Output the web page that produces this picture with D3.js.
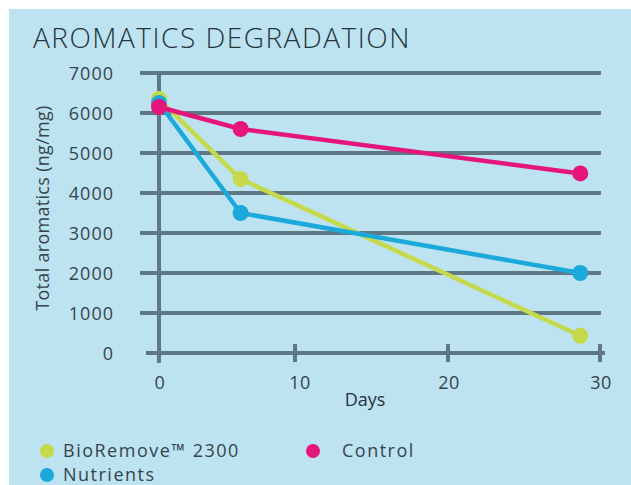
<!DOCTYPE html>
<html>
<head>
<meta charset="utf-8">
<script src="https://cdn.jsdelivr.net/npm/d3@7"></script>
<style>
  body { margin: 0; background: #fff; }
  svg { display: block; font-family: "Open Sans", sans-serif; }
</style>
</head>
<body>
<svg id="chart" width="631" height="485"></svg>
<script>
// values
const days = [0, 6, 28.7];
const bioRemove = [6350, 4350, 430];
const nutrients = [6250, 3500, 2000];
const control = [6150, 5600, 4490];
const seriesNames = ["BioRemove\u2122 2300", "Nutrients", "Control"];
const seriesColors = ["#c6d94a", "#1aa9da", "#e5157c"];
const yTicks = [0, 1000, 2000, 3000, 4000, 5000, 6000, 7000];
const xTicks = [0, 10, 20, 30];

const svg = d3.select("#chart");
const gridColor = "#5f7884";
const textColor = "#34444c";

// blue panel
svg.append("rect")
    .attr("x", 9).attr("y", 9)
    .attr("width", 622).attr("height", 476)
    .attr("fill", "#bde3f1");

svg.append("text")
    .attr("x", 33).attr("y", 48)
    .attr("font-size", 28)
    .attr("font-weight", 300)
    .attr("letter-spacing", 1.5)
    .attr("fill", "#26343b")
    .text("AROMATICS DEGRADATION");

// the printed x axis is not evenly spaced between 0 and 10
let x = d3.scaleLinear().domain([0, 10, 20, 30]).range([159, 295, 448, 600]);
let y = d3.scaleLinear().domain([0, 7000]).range([353, 73]);

// horizontal grid lines
svg.append("g").selectAll("line")
    .data(yTicks)
    .enter().append("line")
    .attr("x1", d => d === 0 ? 146 : 140)
    .attr("x2", d => d === 0 ? 605 : 601)
    .attr("y1", d => y(d)).attr("y2", d => y(d))
    .attr("stroke", gridColor)
    .attr("stroke-width", 4);

// vertical axis line at day 0
svg.append("line")
    .attr("x1", x(0)).attr("x2", x(0))
    .attr("y1", y(7000)).attr("y2", y(0) + 10)
    .attr("stroke", gridColor)
    .attr("stroke-width", 4);

// x ticks
svg.append("g").selectAll("line")
    .data(xTicks.filter(d => d > 0))
    .enter().append("line")
    .attr("x1", d => x(d)).attr("x2", d => x(d))
    .attr("y1", y(0) - 9).attr("y2", y(0) + 9)
    .attr("stroke", gridColor)
    .attr("stroke-width", 4);

// y tick labels
svg.append("g").selectAll("text")
    .data(yTicks)
    .enter().append("text")
    .attr("x", 114)
    .attr("y", d => y(d) + 7)
    .attr("text-anchor", "end")
    .attr("font-size", 18)
    .attr("letter-spacing", 1)
    .attr("fill", textColor)
    .text(d => d);

// x tick labels
svg.append("g").selectAll("text")
    .data(xTicks)
    .enter().append("text")
    .attr("x", d => x(d) + (d === 10 ? 5 : 1))
    .attr("y", 389)
    .attr("text-anchor", "middle")
    .attr("font-size", 18)
    .attr("letter-spacing", 0.5)
    .attr("fill", textColor)
    .text(d => d);

svg.append("text")
    .attr("x", 365).attr("y", 406)
    .attr("text-anchor", "middle")
    .attr("font-size", 18)
    .attr("font-weight", 500)
    .attr("fill", "#26343b")
    .text("Days");

svg.append("text")
    .attr("transform", "translate(49,208) rotate(-90)")
    .attr("text-anchor", "middle")
    .attr("font-size", 18)
    .attr("letter-spacing", 0.3)
    .attr("fill", textColor)
    .text("Total aromatics (ng/mg)");

// lines and dots
let seriesData = [bioRemove, nutrients, control].map((vals, i) => ({
    name: seriesNames[i],
    color: seriesColors[i],
    values: vals.map((v, j) => ({day: days[j], val: v}))
}));

let linefcn = d3.line()
    .x(d => x(d.day))
    .y(d => y(d.val));

svg.append("g").selectAll("path")
    .data(seriesData)
    .enter().append("path")
    .attr("d", d => linefcn(d.values))
    .attr("fill", "none")
    .attr("stroke", d => d.color)
    .attr("stroke-width", 4.5);

seriesData.forEach(s => {
    svg.append("g").selectAll("circle")
        .data(s.values)
        .enter().append("circle")
        .attr("cx", d => x(d.day))
        .attr("cy", d => y(d.val))
        .attr("r", 8)
        .attr("fill", s.color);
});

// legend
let legendPos = [[47, 451], [47, 475], [313, 451]];
let legend = svg.append("g").selectAll("g")
    .data(seriesData)
    .enter().append("g")
    .attr("transform", (d, i) => "translate(" + legendPos[i][0] + "," + legendPos[i][1] + ")");
legend.append("circle")
    .attr("r", 7)
    .attr("fill", d => d.color);
legend.append("text")
    .attr("x", d => d.name === "Control" ? 29 : 16)
    .attr("y", 6)
    .attr("font-size", 18)
    .attr("letter-spacing", 1.5)
    .attr("fill", textColor)
    .text(d => d.name);
</script>
</body>
</html>
